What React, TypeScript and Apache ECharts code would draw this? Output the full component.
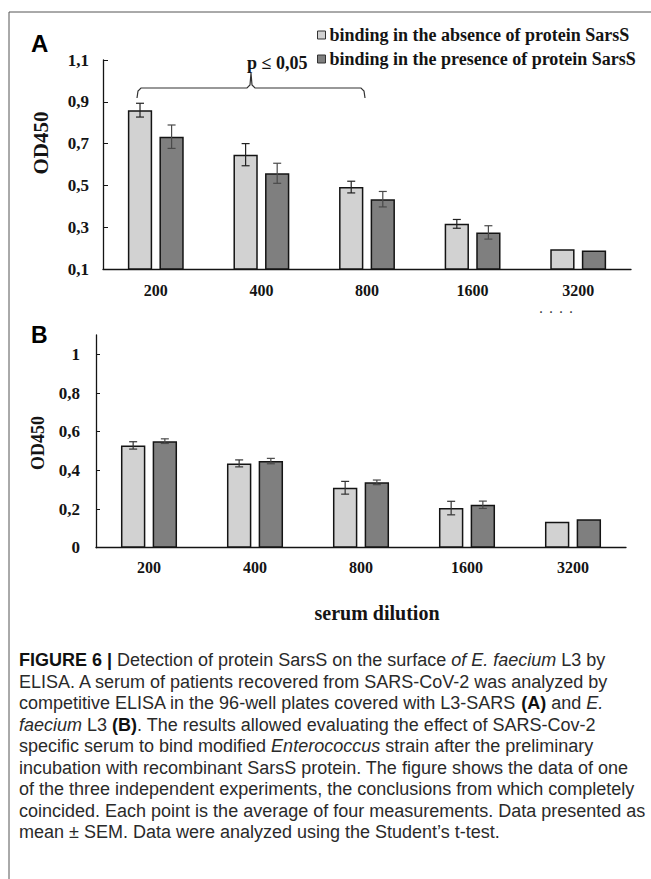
import React, { useEffect, useRef } from "react";
import * as echarts from "echarts";

// ---------- data ----------
const categories = ["200", "400", "800", "1600", "3200"];
const legendNames = [
  "binding in the absence of protein SarsS",
  "binding in the presence of protein SarsS",
];

// Panel A (L3-SARS)
const aAbsence = [0.86, 0.647, 0.492, 0.316, 0.194];
const aAbsenceErr = [0.033, 0.053, 0.028, 0.021, 0];
const aPresence = [0.733, 0.558, 0.434, 0.275, 0.189];
const aPresenceErr = [0.056, 0.048, 0.037, 0.032, 0];

// Panel B (E. faecium L3)
const bAbsence = [0.529, 0.436, 0.31, 0.205, 0.134];
const bAbsenceErr = [0.019, 0.018, 0.033, 0.035, 0];
const bPresence = [0.551, 0.448, 0.338, 0.222, 0.147];
const bPresenceErr = [0.012, 0.014, 0.012, 0.019, 0];

const yTicksA = [0.1, 0.3, 0.5, 0.7, 0.9, 1.1];
const yTicksB = [0, 0.2, 0.4, 0.6, 0.8, 1];

const captionLines = [
  "{b|FIGURE 6 |} Detection of protein SarsS on the surface {i|of E. faecium} L3 by",
  "ELISA. A serum of patients recovered from SARS-CoV-2 was analyzed by",
  "competitive ELISA in the 96-well plates covered with L3-SARS {b|(A)} and {i|E.}",
  "{i|faecium} L3 {b|(B)}. The results allowed evaluating the effect of SARS-Cov-2",
  "specific serum to bind modified {i|Enterococcus} strain after the preliminary",
  "incubation with recombinant SarsS protein. The figure shows the data of one",
  "of the three independent experiments, the conclusions from which completely",
  "coincided. Each point is the average of four measurements. Data presented as",
  "mean \u00b1 SEM. Data were analyzed using the Student\u2019s t-test.",
];

// ---------- style ----------
const SERIF = '"Liberation Serif", "Times New Roman", serif';
const SANS = '"Liberation Sans", Arial, sans-serif';
const BAR_W = 0.23;
const BAR_GAP = 0.3;
const LIGHT = "#d2d2d2";
const DARK = "#7f7f7f";
const INK = "#141414";

const fmt = (v: number) => Number(v.toFixed(1)).toString().replace(".", ",");

function errSeries(gi: number, vals: number[], errs: number[], sign: number, color: string) {
  return {
    type: "custom",
    xAxisIndex: gi,
    yAxisIndex: gi,
    z: 5,
    silent: true,
    data: vals.map((v, i) => [i, v, errs[i]]),
    renderItem: (_p: any, api: any) => {
      const e = api.value(2);
      if (!e) return null;
      const band = api.size([1, 0])[0];
      const bw = band * BAR_W;
      const off = (sign * (bw + bw * BAR_GAP)) / 2;
      const v = api.value(1);
      const top = api.coord([api.value(0), v + e]);
      const bot = api.coord([api.value(0), v - e]);
      const x = top[0] + off;
      const c = 4;
      const st = { stroke: color, lineWidth: 1.2 };
      return {
        type: "group",
        children: [
          { type: "line", shape: { x1: x, y1: top[1], x2: x, y2: bot[1] }, style: st },
          { type: "line", shape: { x1: x - c, y1: top[1], x2: x + c, y2: top[1] }, style: st },
          { type: "line", shape: { x1: x - c, y1: bot[1], x2: x + c, y2: bot[1] }, style: st },
        ],
      };
    },
  };
}

function barSeries(gi: number, name: string, vals: number[], color: string) {
  return {
    type: "bar",
    name,
    xAxisIndex: gi,
    yAxisIndex: gi,
    data: vals,
    barWidth: BAR_W * 100 + "%",
    barGap: BAR_GAP * 100 + "%",
    itemStyle: { color, borderColor: INK, borderWidth: 1.5 },
  };
}

const axisLineStyle = { color: INK, width: 1.3 };
const tickLabel = { fontFamily: SERIF, fontWeight: "bold", fontSize: 16, color: INK };

export default function App() {
  const ref = useRef<HTMLDivElement>(null);
  useEffect(() => {
    if (!ref.current) return;
    const chart = echarts.init(ref.current, undefined, { renderer: "svg" });
    const captionGraphics = captionLines.map((t, i) => ({
      type: "text",
      x: 19,
      y: 660 + i * 21.5,
      style: {
        text: t,
        fontFamily: SANS,
        fontSize: 18,
        fill: "#2a2a2a",
        align: "left",
        verticalAlign: "middle",
        rich: {
          b: { fontFamily: SANS, fontSize: 18, fontWeight: "bold", fill: "#111" },
          i: { fontFamily: SANS, fontSize: 18, fontStyle: "italic", fill: "#2a2a2a" },
        },
      },
    }));
    chart.setOption({
      animation: false,
      backgroundColor: "#ffffff",
      legend: {
        data: legendNames,
        orient: "vertical",
        left: 317,
        top: 26,
        padding: 0,
        itemGap: 6,
        itemWidth: 8,
        itemHeight: 8,
        icon: "rect",
        itemStyle: { borderColor: "#333", borderWidth: 1 },
        textStyle: { fontFamily: SERIF, fontWeight: "bold", fontSize: 18, color: INK, padding: [0, 0, 0, -1] },
        selectedMode: false,
      },
      grid: [
        { left: 103, top: 60, width: 528, height: 209 },
        { left: 96, top: 335, width: 530, height: 212.7 },
      ],
      xAxis: [0, 1].map((gi) => ({
        type: "category",
        gridIndex: gi,
        data: categories,
        axisLine: { lineStyle: axisLineStyle },
        axisTick: { inside: true, length: 4, lineStyle: { color: INK } },
        axisLabel: { ...tickLabel, margin: gi === 0 ? 13 : 12 },
      })),
      yAxis: [
        {
          type: "value",
          gridIndex: 0,
          min: 0.1,
          max: 1.1,
          splitLine: { show: false },
          axisLine: { show: true, lineStyle: axisLineStyle },
          axisTick: { show: true, inside: true, length: 5, customValues: yTicksA, lineStyle: { color: INK } },
          axisLabel: { ...tickLabel, fontSize: 17, customValues: yTicksA, formatter: fmt, margin: 14 },
        },
        {
          type: "value",
          gridIndex: 1,
          min: 0,
          max: 1.1,
          splitLine: { show: false },
          axisLine: { show: true, lineStyle: axisLineStyle },
          axisTick: { show: true, inside: true, length: 4, customValues: yTicksB, lineStyle: { color: INK } },
          axisLabel: { ...tickLabel, fontSize: 17, customValues: yTicksB, formatter: fmt, margin: 16 },
        },
      ],
      series: [
        barSeries(0, legendNames[0], aAbsence, LIGHT),
        barSeries(0, legendNames[1], aPresence, DARK),
        barSeries(1, legendNames[0], bAbsence, LIGHT),
        barSeries(1, legendNames[1], bPresence, DARK),
        errSeries(0, aAbsence, aAbsenceErr, -1, "#222"),
        errSeries(0, aPresence, aPresenceErr, 1, "#4a4a4a"),
        errSeries(1, bAbsence, bAbsenceErr, -1, "#333"),
        errSeries(1, bPresence, bPresenceErr, 1, "#4a4a4a"),
      ],
      graphic: [
        // frame
        { type: "line", shape: { x1: 9, y1: 12, x2: 651, y2: 12 }, style: { stroke: "#555", lineWidth: 1 } },
        { type: "line", shape: { x1: 9, y1: 12, x2: 9, y2: 879 }, style: { stroke: "#555", lineWidth: 1 } },
        // panel letters
        { type: "text", x: 31, y: 43, style: { text: "A", fontFamily: SANS, fontWeight: "bold", fontSize: 24, fill: "#000", align: "left", verticalAlign: "middle" } },
        { type: "text", x: 31, y: 335, style: { text: "B", fontFamily: SANS, fontWeight: "bold", fontSize: 23, fill: "#000", align: "left", verticalAlign: "middle" } },
        // y titles
        { type: "text", x: 41, y: 143, rotation: Math.PI / 2, style: { text: "OD450", fontFamily: SERIF, fontWeight: "bold", fontSize: 21, fill: INK, align: "center", verticalAlign: "middle" } },
        { type: "text", x: 38, y: 443, rotation: Math.PI / 2, style: { text: "OD450", fontFamily: SERIF, fontWeight: "bold", fontSize: 18, fill: INK, align: "center", verticalAlign: "middle" } },
        // significance bracket
        {
          type: "polyline",
          shape: {
            points: [
              [137, 98], [138, 91], [141, 88], [247, 88], [250, 85], [251, 73],
              [252, 85], [255, 88], [361, 88], [364, 91], [365, 98],
            ],
          },
          style: { stroke: "#333", lineWidth: 1.2, fill: null },
        },
        { type: "text", x: 247, y: 63, style: { text: "p \u2264 0,05", fontFamily: SERIF, fontWeight: "bold", fontSize: 18, fill: INK, align: "left", verticalAlign: "middle" } },
        // cut-off remnants of the x title under panel A
        { type: "text", x: 539, y: 316, style: { text: "\u02d9  \u02d9  \u02d9  \u02d9", fontFamily: SERIF, fontWeight: "bold", fontSize: 12, fill: "#333", align: "left", verticalAlign: "middle" } },
        // x title panel B
        { type: "text", x: 377, y: 613, style: { text: "serum dilution", fontFamily: SERIF, fontWeight: "bold", fontSize: 20, fill: INK, align: "center", verticalAlign: "middle" } },
        ...captionGraphics,
      ],
    });
    return () => chart.dispose();
  }, []);
  return (
    <div
      ref={ref}
      style={{ position: "absolute", left: 0, top: 0, width: 651, height: 879, background: "#fff" }}
    />
  );
}
